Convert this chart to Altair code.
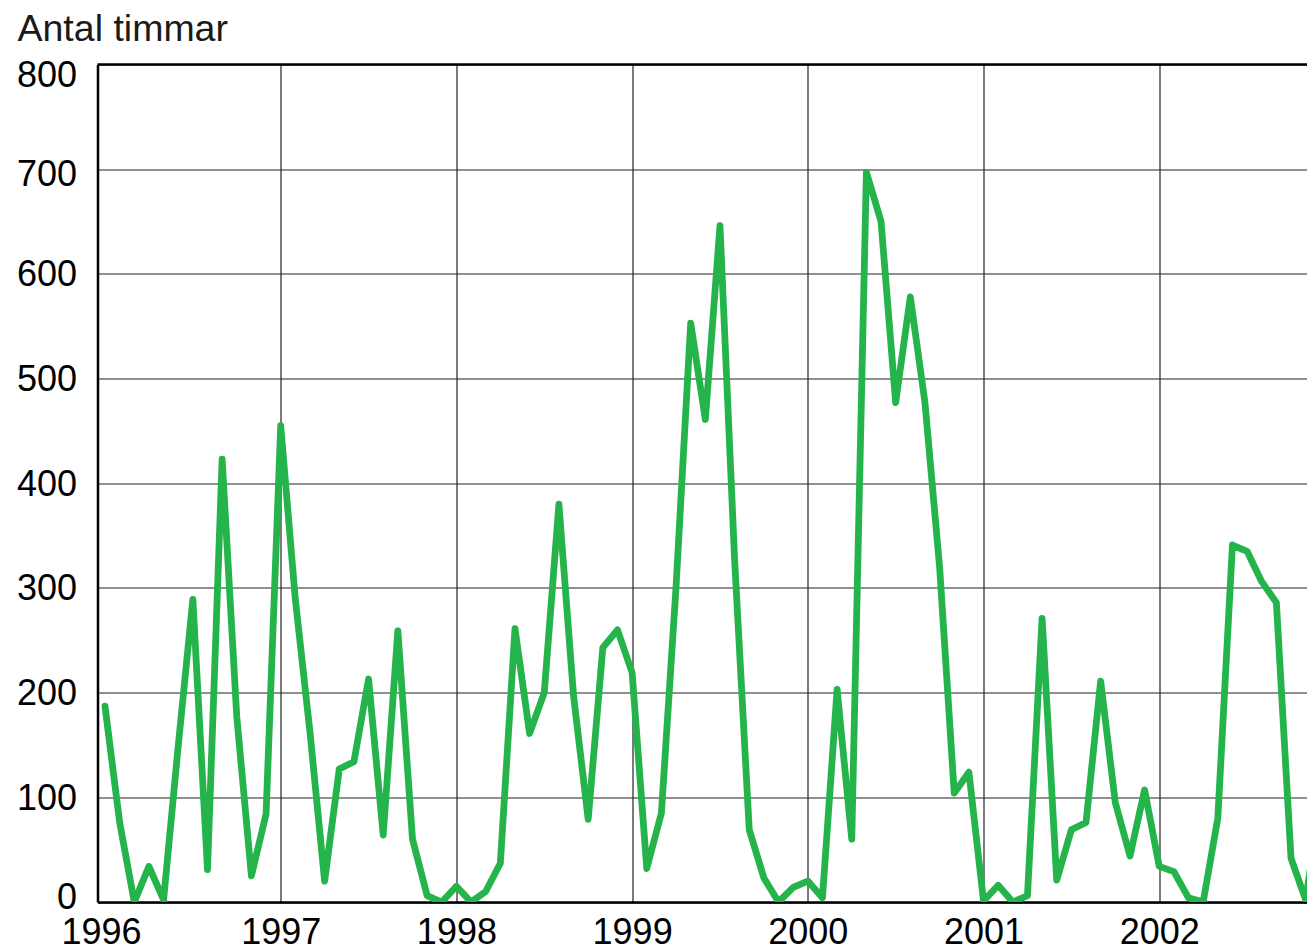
import altair as alt
import pandas as pd

years = [1996, 1997, 1998, 1999, 2000, 2001, 2002]
y_ticks = [0, 100, 200, 300, 400, 500, 600, 700, 800]

hours_1996 = [187, 76, 0, 34, 2, 149, 289, 31, 423, 177, 25, 84]
hours_1997 = [455, 289, 162, 20, 127, 134, 213, 64, 259, 60, 6, 0]
hours_1998 = [15, 0, 10, 37, 261, 161, 200, 380, 197, 79, 243, 260]
hours_1999 = [219, 32, 85, 301, 553, 461, 646, 327, 69, 23, 0, 14]
hours_2000 = [20, 4, 203, 60, 697, 650, 477, 578, 477, 320, 104, 124]
hours_2001 = [1, 16, 0, 6, 271, 21, 69, 76, 211, 95, 44, 107]
hours_2002 = [34, 29, 4, 0, 80, 341, 335, 306, 286, 42, 2, 95]

series = [hours_1996, hours_1997, hours_1998, hours_1999,
          hours_2000, hours_2001, hours_2002]

rows = []
for yr, vals in zip(years, series):
    for m, v in enumerate(vals):
        rows.append({"t": yr + m / 12.0, "timmar": v})
df = pd.DataFrame(rows)

top_df = pd.DataFrame({"v": [800]})

FONT = "Liberation Sans"
x_domain = [1995.9573, 2002.841]

line = alt.Chart(df).mark_line(
    clip=True, color="#25b34b", strokeWidth=6.8,
    strokeJoin="round", strokeCap="round"
).encode(
    x=alt.X("t:Q",
            scale=alt.Scale(domain=x_domain, nice=False, zero=False),
            axis=alt.Axis(values=years, format="d", title=None, grid=True,
                          ticks=False, labelPadding=13, labelFlush=False,
                          labelOverlap=False, domainWidth=2.5,
                          domainColor="black", labelFontSize=36,
                          labelFont=FONT, labelColor="black",
                          gridColor="#222222", gridWidth=1.2,
                          gridOpacity={"condition": {"test": "datum.value == 1996", "value": 0},
                                       "value": 1},
                          labelOffset={"condition": {"test": "datum.value == 1996", "value": -4},
                                       "value": 0})),
    y=alt.Y("timmar:Q",
            scale=alt.Scale(domain=[0, 800], nice=False),
            axis=alt.Axis(values=y_ticks, title="Antal timmar", titleAngle=0,
                          titleAlign="left", titleBaseline="alphabetic",
                          titleX=-80.5, titleY=-24.3, titleFontSize=37.5,
                          titleFont=FONT, titleFontWeight="normal",
                          titleColor="#1a1a1a", ticks=False, labelPadding=21,
                          labelFlush=False, labelOverlap=False,
                          domainWidth=2.5, domainColor="black",
                          labelFontSize=36, labelFont=FONT, labelColor="black",
                          gridColor="#222222", gridWidth=1.2,
                          labelOffset={"condition": [
                              {"test": "datum.value == 800", "value": 11},
                              {"test": "datum.value == 700", "value": 5},
                              {"test": "datum.value == 0", "value": -5}],
                              "value": 1})),
)

top = alt.Chart(top_df).mark_rule(color="black", strokeWidth=2.5).encode(
    y=alt.Y("v:Q")
)

chart = alt.layer(line, top).properties(
    width=1209.5, height=837.5,
    autosize=alt.AutoSizeParams(type="none"),
    padding={"left": 89.5, "top": 56.5, "right": 0, "bottom": 46},
).configure_view(stroke=None).configure(background="white")

chart.save("out.html", embed_options={"renderer": "svg", "actions": False})
